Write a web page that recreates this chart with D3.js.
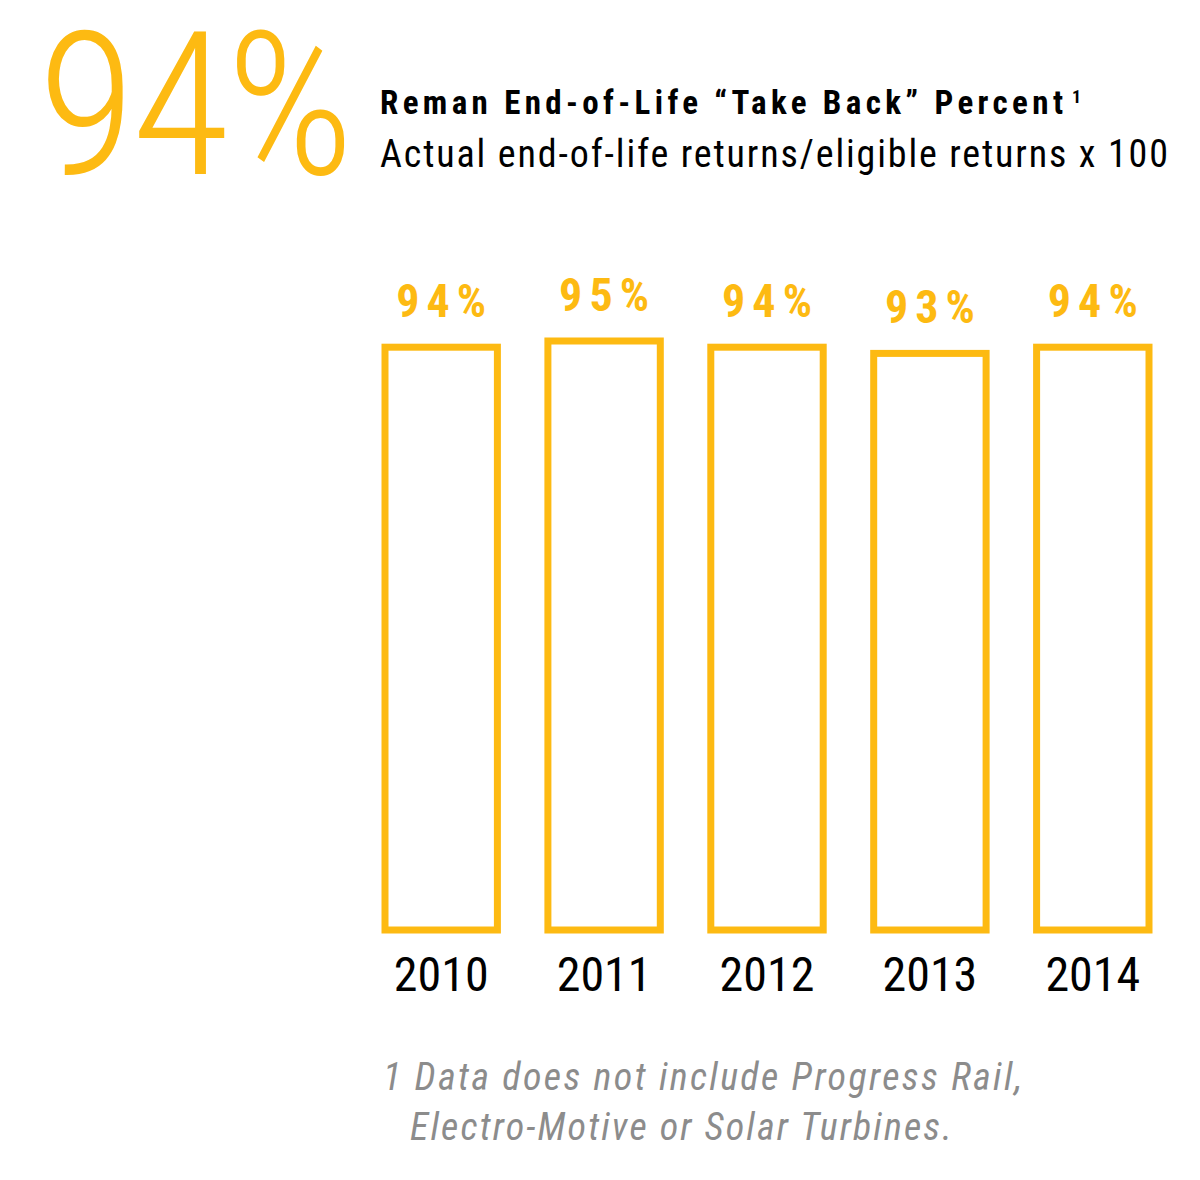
<!DOCTYPE html>
<html><head><meta charset="utf-8">
<script src="https://cdn.jsdelivr.net/npm/d3@7"></script>
<style>body{margin:0;background:#fff}</style>
</head><body>
<svg id="chart" width="1200" height="1180"></svg>
<script>
// data
const years = ['2010', '2011', '2012', '2013', '2014']
const takeBack = [94, 95, 94, 93, 94]

const yellow = '#FDBA12'
const font = '"Liberation Sans Narrow", "Roboto Condensed", "Liberation Sans", sans-serif'
const svg = d3.select('#chart').style('font-family', font)

const x = d3.scaleBand().domain(years).range([385, 1149]).paddingInner(0.31).paddingOuter(0)
const y = d3.scaleLinear().domain([0, 100]).range([930, 310])

svg.selectAll('rect.bar')
  .data(years)
  .enter()
  .append('rect')
  .attr('class', 'bar')
  .attr('x', d => x(d))
  .attr('y', (d, i) => y(takeBack[i]))
  .attr('width', x.bandwidth())
  .attr('height', (d, i) => y(0) - y(takeBack[i]))
  .attr('fill', 'none')
  .attr('stroke', yellow)
  .attr('stroke-width', 7)

svg.selectAll('text.val')
  .data(years)
  .enter()
  .append('text')
  .attr('x', d => x(d) + x.bandwidth() / 2 - 45)
  .attr('y', (d, i) => y(takeBack[i]) - 30)
  .attr('font-size', 46)
  .attr('font-weight', 'bold')
  .attr('fill', yellow)
  .attr('textLength', 90)
  .text((d, i) => takeBack[i] + '%')

// year labels, no axis line
const xAxis = svg.append('g')
  .attr('transform', 'translate(0,940)')
  .call(d3.axisBottom(x).tickSize(0).tickPadding(8))
xAxis.select('.domain').remove()
xAxis.selectAll('text').attr('font-size', 48).attr('font-family', font).attr('fill', '#000').attr('dy', '0.9em')

// header
svg.append('text')
  .attr('x', 38).attr('y', 174)
  .attr('font-size', 200).attr('font-weight', 300)
  .attr('fill', yellow).attr('textLength', 316)
  .text('94%')

svg.append('text').attr('x', 380).attr('y', 114)
  .attr('font-size', 33).attr('font-weight', 'bold').attr('fill', '#000')
  .attr('textLength', 683)
  .text('Reman End-of-Life \u201CTake Back\u201D Percent')
svg.append('text').attr('x', 1072).attr('y', 103)
  .attr('font-size', 18).attr('font-weight', 'bold').attr('fill', '#000')
  .text('1')

svg.append('text').attr('x', 380).attr('y', 167)
  .attr('font-size', 38).attr('fill', '#000')
  .attr('textLength', 788)
  .text('Actual end-of-life returns/eligible returns x 100')

const notes = ['1 Data does not include Progress Rail,', 'Electro-Motive or Solar Turbines.']
const noteLen = [639, 542]
svg.selectAll('text.note')
  .data(notes)
  .enter()
  .append('text')
  .attr('x', (d, i) => i ? 410 : 383)
  .attr('y', (d, i) => 1090 + i * 50)
  .attr('font-size', 38).attr('font-style', 'italic')
  .attr('fill', '#8c8c8c')
  .attr('textLength', (d, i) => noteLen[i])
  .text(d => d)
</script>
</body></html>
